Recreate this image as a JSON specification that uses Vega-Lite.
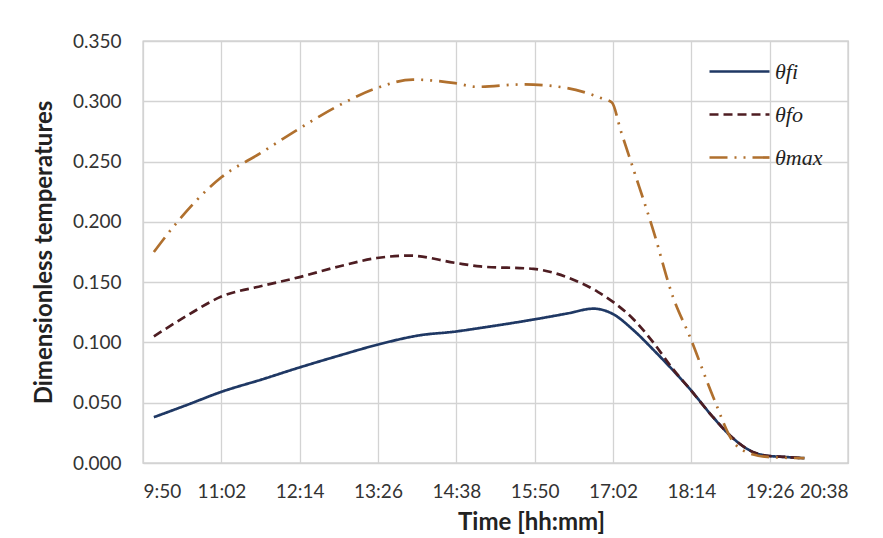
{
  "$schema": "https://vega.github.io/schema/vega-lite/v6.json",
  "width": 705,
  "height": 422,
  "autosize": {"type": "none"},
  "padding": {"left": 143, "top": 41, "right": 35, "bottom": 75},
  "background": "white",
  "config": {
    "font": "Lato",
    "view": {"stroke": "#BFBFBF", "strokeWidth": 1.3},
    "axis": {
      "gridColor": "#D3D3D3",
      "gridWidth": 1.3,
      "domain": false,
      "ticks": false,
      "labelFont": "Lato",
      "labelFontSize": 19,
      "labelColor": "#333333",
      "titleFont": "Lato",
      "titleFontSize": 24,
      "titleFontWeight": "bold",
      "titleColor": "#222222"
    }
  },
  "data": {
    "values": [
      {"series": "θfi", "t": 600, "v": 0.038},
      {"series": "θfi", "t": 630, "v": 0.048},
      {"series": "θfi", "t": 662, "v": 0.059},
      {"series": "θfi", "t": 700, "v": 0.0695},
      {"series": "θfi", "t": 733, "v": 0.079},
      {"series": "θfi", "t": 770, "v": 0.089},
      {"series": "θfi", "t": 805, "v": 0.098},
      {"series": "θfi", "t": 845, "v": 0.106},
      {"series": "θfi", "t": 877, "v": 0.109},
      {"series": "θfi", "t": 900, "v": 0.112},
      {"series": "θfi", "t": 949, "v": 0.119},
      {"series": "θfi", "t": 980, "v": 0.124},
      {"series": "θfi", "t": 1004, "v": 0.128},
      {"series": "θfi", "t": 1021, "v": 0.124},
      {"series": "θfi", "t": 1041, "v": 0.110},
      {"series": "θfi", "t": 1059, "v": 0.094},
      {"series": "θfi", "t": 1077, "v": 0.077},
      {"series": "θfi", "t": 1093, "v": 0.061},
      {"series": "θfi", "t": 1114, "v": 0.038},
      {"series": "θfi", "t": 1133, "v": 0.020},
      {"series": "θfi", "t": 1151, "v": 0.009},
      {"series": "θfi", "t": 1164, "v": 0.006},
      {"series": "θfi", "t": 1180, "v": 0.005},
      {"series": "θfi", "t": 1198, "v": 0.004},
      {"series": "θfo", "t": 600, "v": 0.105},
      {"series": "θfo", "t": 630, "v": 0.122},
      {"series": "θfo", "t": 662, "v": 0.138},
      {"series": "θfo", "t": 700, "v": 0.147},
      {"series": "θfo", "t": 733, "v": 0.154},
      {"series": "θfo", "t": 770, "v": 0.163},
      {"series": "θfo", "t": 805, "v": 0.170},
      {"series": "θfo", "t": 835, "v": 0.172},
      {"series": "θfo", "t": 877, "v": 0.166},
      {"series": "θfo", "t": 900, "v": 0.163},
      {"series": "θfo", "t": 949, "v": 0.161},
      {"series": "θfo", "t": 980, "v": 0.154},
      {"series": "θfo", "t": 1008, "v": 0.142},
      {"series": "θfo", "t": 1023, "v": 0.133},
      {"series": "θfo", "t": 1041, "v": 0.119},
      {"series": "θfo", "t": 1059, "v": 0.100},
      {"series": "θfo", "t": 1077, "v": 0.078},
      {"series": "θfo", "t": 1093, "v": 0.061},
      {"series": "θfo", "t": 1114, "v": 0.038},
      {"series": "θfo", "t": 1133, "v": 0.020},
      {"series": "θfo", "t": 1151, "v": 0.009},
      {"series": "θfo", "t": 1164, "v": 0.006},
      {"series": "θfo", "t": 1180, "v": 0.005},
      {"series": "θfo", "t": 1198, "v": 0.004},
      {"series": "θmax", "t": 600, "v": 0.175},
      {"series": "θmax", "t": 618, "v": 0.196},
      {"series": "θmax", "t": 662, "v": 0.237},
      {"series": "θmax", "t": 698, "v": 0.257},
      {"series": "θmax", "t": 733, "v": 0.277},
      {"series": "θmax", "t": 771, "v": 0.297},
      {"series": "θmax", "t": 805, "v": 0.311},
      {"series": "θmax", "t": 838, "v": 0.318},
      {"series": "θmax", "t": 877, "v": 0.315},
      {"series": "θmax", "t": 897, "v": 0.312},
      {"series": "θmax", "t": 939, "v": 0.314},
      {"series": "θmax", "t": 980, "v": 0.311},
      {"series": "θmax", "t": 1010, "v": 0.303},
      {"series": "θmax", "t": 1021, "v": 0.299},
      {"series": "θmax", "t": 1029, "v": 0.276},
      {"series": "θmax", "t": 1041, "v": 0.243},
      {"series": "θmax", "t": 1059, "v": 0.193},
      {"series": "θmax", "t": 1077, "v": 0.138},
      {"series": "θmax", "t": 1093, "v": 0.104},
      {"series": "θmax", "t": 1114, "v": 0.055},
      {"series": "θmax", "t": 1133, "v": 0.017},
      {"series": "θmax", "t": 1151, "v": 0.007},
      {"series": "θmax", "t": 1164, "v": 0.005},
      {"series": "θmax", "t": 1198, "v": 0.004}
    ]
  },
  "mark": {"type": "line", "interpolate": "monotone", "strokeWidth": 2.7},
  "encoding": {
    "x": {
      "field": "t",
      "type": "quantitative",
      "scale": {"domain": [590, 1238], "nice": false, "zero": false},
      "axis": {
        "values": [590, 662, 734, 806, 878, 950, 1022, 1094, 1166, 1238],
        "labelExpr": "floor(datum.value/60) + ':' + (datum.value%60 < 10 ? '0' : '') + (datum.value%60)",
        "labelPadding": 19,
        "title": "Time [hh:mm]",
        "titleX": 388,
        "titleY": 59,
        "titleAlign": "center",
        "titleBaseline": "middle"
      }
    },
    "y": {
      "field": "v",
      "type": "quantitative",
      "scale": {"domain": [0, 0.35], "nice": false},
      "axis": {
        "values": [0, 0.05, 0.1, 0.15, 0.2, 0.25, 0.3, 0.35],
        "format": ".3f",
        "labelPadding": 22,
        "title": "Dimensionless temperatures",
        "titleX": -99,
        "titleY": 211,
        "titleAlign": "center",
        "titleBaseline": "middle"
      }
    },
    "color": {
      "field": "series",
      "type": "nominal",
      "scale": {"domain": ["θfi", "θfo", "θmax"], "range": ["#1F3864", "#4E1D22", "#B0702E"]},
      "legend": {
        "title": null,
        "orient": "none",
        "legendX": 565,
        "legendY": -1,
        "symbolType": "stroke",
        "symbolSize": 3600,
        "symbolStrokeWidth": 2.7,
        "labelFont": "Liberation Serif",
        "labelFontStyle": "italic",
        "labelFontSize": 22,
        "labelColor": "#222222",
        "rowPadding": -19,
        "labelOffset": 4
      }
    },
    "strokeDash": {
      "field": "series",
      "type": "nominal",
      "scale": {"domain": ["θfi", "θfo", "θmax"], "range": [[1, 0], [9, 5], [18, 7, 2, 7, 2, 7]]},
      "legend": null
    }
  }
}
